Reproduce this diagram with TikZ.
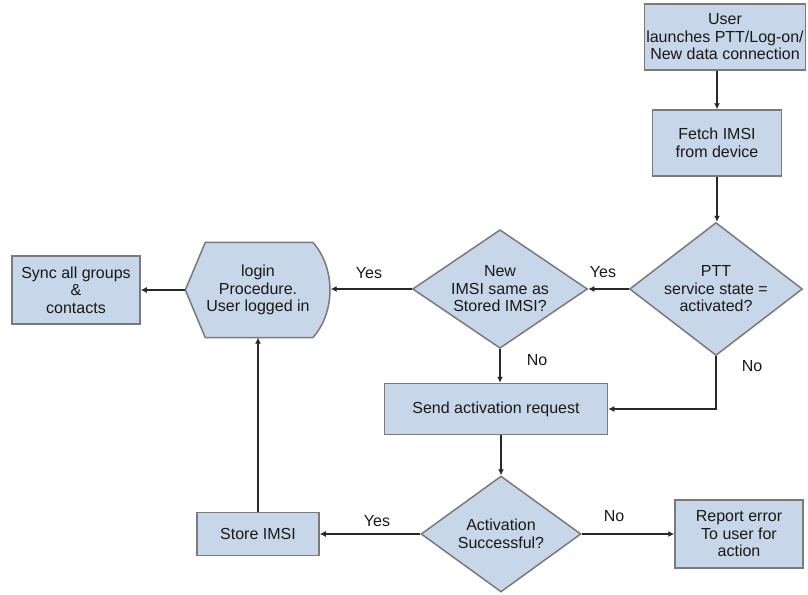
\documentclass[tikz,border=0pt]{standalone}
\usepackage{fontspec}
\setmainfont{Liberation Sans}
\usepackage{xcolor}
\usetikzlibrary{shapes.geometric, arrows.meta, positioning, backgrounds, calc}
\definecolor{boxfill}{RGB}{199,214,232}
\definecolor{boxline}{RGB}{122,122,122}
\definecolor{arrline}{RGB}{40,40,40}

\begin{document}
\begin{tikzpicture}[
  x=1pt, y=-1pt,
  font=\fontsize{16}{17.5}\selectfont,
  box/.style={rectangle, draw=boxline, line width=1.5pt, fill=boxfill,
              align=center, inner sep=2pt, text=black!90},
  decision/.style={diamond, aspect=1.35, draw=boxline, line width=1.5pt,
                   fill=boxfill, align=center, inner sep=0pt, text=black!90},
  plain/.style={align=center, inner sep=0pt, text=black!90},
  hexa/.style={draw=boxline, line width=1.5pt, fill=boxfill},
  lbl/.style={font=\fontsize{16}{17}\selectfont, text=black!90, inner sep=1pt},
  arr/.style={-{Latex[length=6pt,width=6pt]}, line width=1.5pt, arrline},
]
  \useasboundingbox (0,0) rectangle (808,594);

  \node[box, minimum width=161, minimum height=66] (user) at (725,37)
    {User\\launches PTT/Log-on/\\New data connection};
  \node[box, minimum width=129, minimum height=66] (fetch) at (717,143)
    {Fetch IMSI\\from device};
  \node[decision, minimum width=173, minimum height=133] (ptt) at (716,289)
    {PTT\\service state =\\activated?};
  \node[decision, minimum width=175, minimum height=118] (same) at (500,289)
    {New\\IMSI same as\\Stored IMSI?};
  \node[plain, minimum width=145, minimum height=95] (login) at (258,290)
    {login\\Procedure.\\User logged in};
  \node[box, minimum width=128, minimum height=68] (sync) at (76,290)
    {Sync all groups\\\&\\contacts};
  \node[box, minimum width=223, minimum height=51] (send) at (496,409)
    {Send activation request};
  \node[decision, minimum width=160, minimum height=116] (act) at (501,534)
    {Activation\\Successful?};
  \node[box, minimum width=128, minimum height=68] (report) at (739,534)
    {Report error\\To user for\\action};
  \node[box, minimum width=122, minimum height=43] (store) at (258,534)
    {Store IMSI};

  \begin{scope}[on background layer]
    \draw[hexa] (login.west) -- ([xshift=20pt]login.north west)
      -- ([xshift=-18pt]login.north east)
      .. controls +(23,25) and +(23,-25) .. ([xshift=-18pt]login.south east)
      -- ([xshift=20pt]login.south west) -- cycle;
  \end{scope}

  \draw[arr] (user.south -| fetch.north) -- (fetch.north);
  \draw[arr] (fetch.south) -- (fetch.south |- ptt.north);
  \draw[arr] (ptt.west) -- (same.east);
  \draw[arr] (same.west) -- (same.west -| login.east);
  \draw[arr] (login.west) -- (sync.east);
  \draw[arr] (same.south) -- (same.south |- send.north);
  \draw[arr] (ptt.south) |- (send.east);
  \draw[arr] (send.south -| act.north) -- (act.north);
  \draw[arr] (act.east) -- (report.west);
  \draw[arr] (act.west) -- (store.east);
  \draw[arr] (store.north) -- (store.north |- login.south);

  \node[lbl] (yesptt) at (603,272) {Yes};
  \node[lbl] (yessame) at (369,273) {Yes};
  \node[lbl] (nosame) at (537,360) {No};
  \node[lbl] (noptt) at (752,366) {No};
  \node[lbl] (yesact) at (377,521) {Yes};
  \node[lbl] (noact) at (614,516) {No};
\end{tikzpicture}
\end{document}
